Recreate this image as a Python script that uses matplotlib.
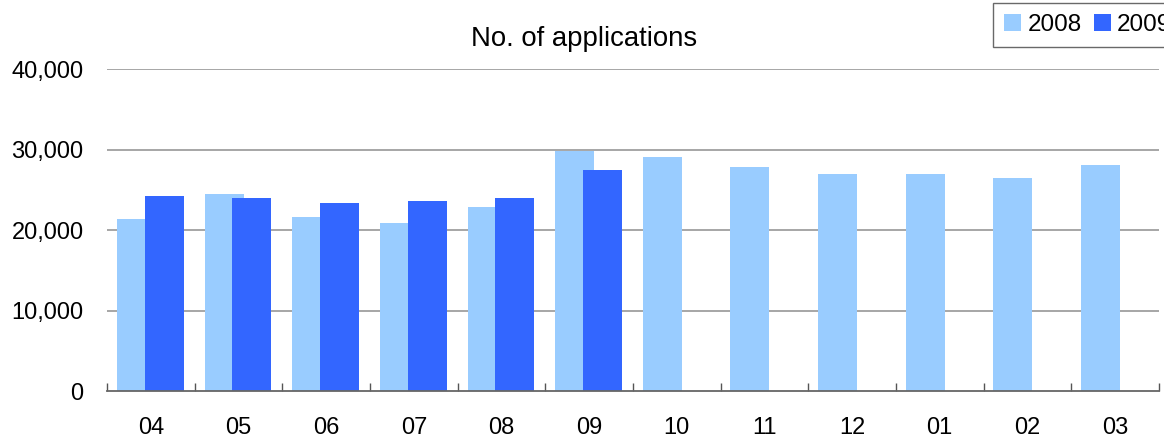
import matplotlib
matplotlib.use("Agg")
import matplotlib.pyplot as plt
import numpy as np
from matplotlib.ticker import FixedLocator, FuncFormatter

plt.rcParams['font.family'] = ['Liberation Sans', 'DejaVu Sans']

months = ["04", "05", "06", "07", "08", "09", "10", "11", "12", "01", "02", "03"]
apps_2008 = [21400, 24500, 21600, 20900, 22900, 29900, 29100, 27800, 27000, 27000, 26500, 28100]
apps_2009 = [24200, 24000, 23400, 23600, 24000, 27500]
series_names = ["2008", "2009"]
y_ticks = [0, 10000, 20000, 30000, 40000]

light_blue = "#99CCFF"
dark_blue = "#3366FF"

fig = plt.figure(figsize=(11.64, 4.42), dpi=100)
ax = fig.add_axes([107.2 / 1164, 51 / 442, (1158.8 - 107.2) / 1164, 321.7 / 442])

x = np.arange(len(months))
width = 0.445
b1 = ax.bar(x - 0.165, apps_2008, width, color=light_blue, zorder=2, label=series_names[0])
b2 = ax.bar(x[:len(apps_2009)] + 0.152, apps_2009, width, color=dark_blue, zorder=3,
            label=series_names[1])

ax.set_xlim(-0.5, len(months) - 0.5)
ax.set_ylim(0, 40000)

# y axis: gridlines only, labels with thousands separators
ax.yaxis.set_major_locator(FixedLocator(y_ticks))
ax.yaxis.set_major_formatter(FuncFormatter(lambda v, p: f"{int(v):,}"))
ax.tick_params(axis='y', length=0, pad=17, labelsize=17, colors='black')
for yv in y_ticks[1:]:
    ax.axhline(yv, color='#a6a6a6', lw=1.4, zorder=1)

# x axis: labels at category centres, small inward ticks at category boundaries
ax.set_xticks(x)
ax.set_xticklabels(months)
ax.set_xticks(np.arange(-0.5, len(months)), minor=True)
ax.tick_params(axis='x', which='major', length=0, pad=19, labelsize=17)
ax.tick_params(axis='x', which='minor', direction='in', length=5.5, width=1.0, color='#555555')

for s in ['top', 'right', 'left']:
    ax.spines[s].set_visible(False)
ax.spines['bottom'].set_color('#666666')
ax.spines['bottom'].set_linewidth(1.3)
ax.spines['bottom'].set_zorder(4)

fig.text(584 / 1164, 1 - 46 / 442, "No. of applications", ha='center', va='baseline',
         fontsize=19.8)

leg = fig.legend(handles=[b1, b2], labels=series_names, loc='upper left',
                 bbox_to_anchor=(993 / 1164, 1 - 3 / 442), ncol=2, fontsize=17.5,
                 frameon=True, fancybox=False, shadow=False, borderaxespad=0,
                 handlelength=0.7, handleheight=0.65, handletextpad=0.26,
                 columnspacing=0.5, borderpad=0.45)
leg.get_frame().set_edgecolor('#444444')
leg.get_frame().set_linewidth(1.0)

fig.savefig("out.png", dpi=100)
